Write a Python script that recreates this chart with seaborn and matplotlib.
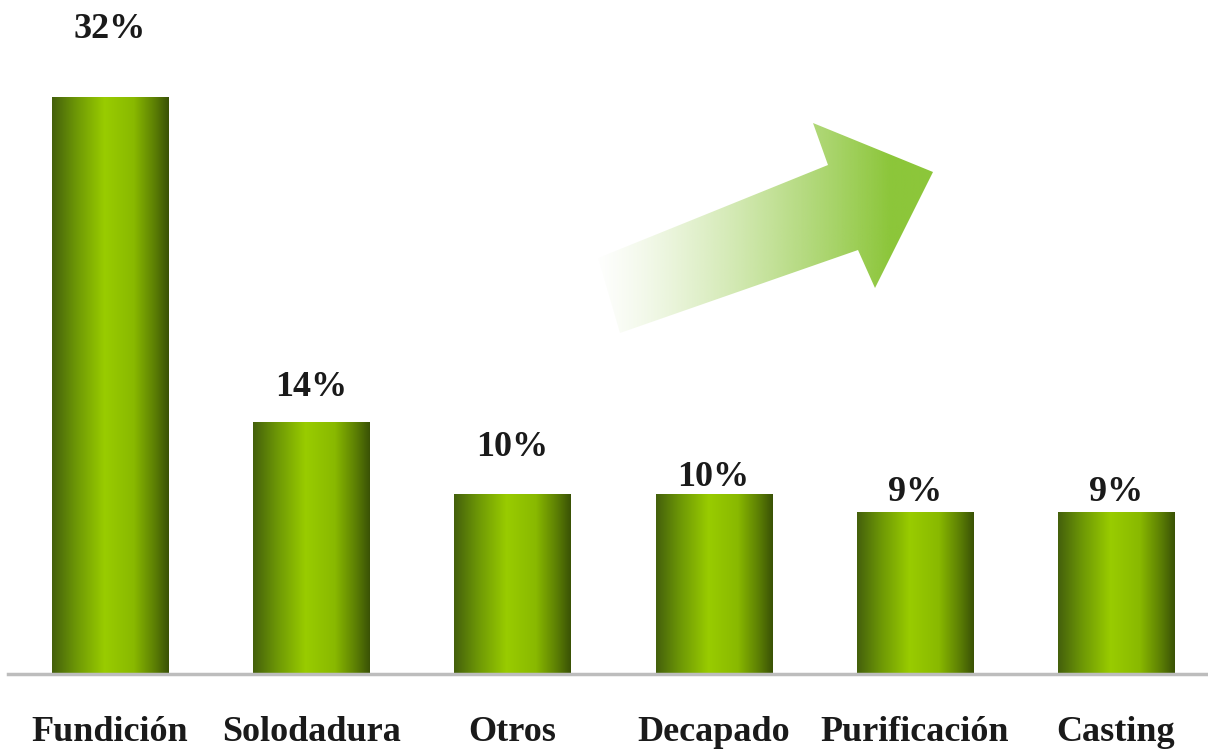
import numpy as np
import pandas as pd
import matplotlib
matplotlib.use("Agg")
import matplotlib.pyplot as plt
import seaborn as sns
from matplotlib.colors import LinearSegmentedColormap, to_rgb
from matplotlib.patches import Polygon

# data
categories = ['Fundición', 'Solodadura', 'Otros', 'Decapado', 'Purificación', 'Casting']
shares = [32, 14, 10, 10, 9, 9]
share_labels = ['32%', '14%', '10%', '10%', '9%', '9%']

# gap (pixels) between bar top and centre of its label, as in the original
label_gap = [68, 34, 46, 16, 19, 19]

sns.set_theme(style="white")
plt.rcParams['font.family'] = ['Liberation Serif', 'DejaVu Serif']

W, H = 1208, 749
fig = plt.figure(figsize=(W / 100, H / 100), dpi=100)
ax = fig.add_axes([8 / W, 75 / H, 1200 / W, 674 / H])

df = pd.DataFrame({'categoria': categories, 'porcentaje': shares})
sns.barplot(data=df, x='categoria', y='porcentaje', ax=ax, width=0.577,
            color='#88bb00', saturation=1, edgecolor='none')

# horizontal "cylinder" gradient on each bar
bar_cmap = LinearSegmentedColormap.from_list(
    'barra', [(0.0, '#44600c'), (0.2, '#6c9606'), (0.45, '#99cc00'),
              (0.7, '#89b900'), (0.88, '#5c7f04'), (1.0, '#3a5206')])
grad = np.linspace(0, 1, 256).reshape(1, -1)
for patch in ax.patches:
    x0, y0 = patch.get_x(), patch.get_y()
    w, h = patch.get_width(), patch.get_height()
    patch.set_facecolor('none')
    im = ax.imshow(grad, cmap=bar_cmap, aspect='auto',
                   extent=(x0, x0 + w, y0, y0 + h), zorder=2)
    im.set_clip_path(patch)

ax.set_xlim(-0.507, 5.457)
ax.set_ylim(0, 37.38)

for i, (v, lab) in enumerate(zip(shares, share_labels)):
    ax.annotate(lab, (i, v), xytext=(0, label_gap[i]), textcoords='offset pixels',
                ha='center', va='center', fontsize=26, fontweight='bold',
                color='#1a1a1a')

for s in ['top', 'left', 'right']:
    ax.spines[s].set_visible(False)
ax.spines['bottom'].set_color('#bdbdbd')
ax.spines['bottom'].set_linewidth(2.5)
ax.set_yticks([])
ax.set_xlabel('')
ax.set_ylabel('')
ax.tick_params(axis='x', length=0, pad=30)
for t in ax.get_xticklabels():
    t.set_fontsize(26)
    t.set_fontweight('bold')
    t.set_color('#1a1a1a')

# decorative rising arrow, in figure pixel space
deco = fig.add_axes([0, 0, 1, 1], zorder=3)
deco.set_xlim(0, W)
deco.set_ylim(H, 0)
deco.axis('off')
arrow_pts = [(598, 258), (828, 165), (813, 123), (933, 172),
             (875, 288), (858, 250), (620, 333)]
shape = Polygon(arrow_pts, closed=True, facecolor='none', edgecolor='none')
deco.add_patch(shape)
xs = np.linspace(580, 940, 400)
alpha = np.clip((xs - 590) / 300, 0, 1) ** 1.3
rgba = np.zeros((1, xs.size, 4))
rgba[0, :, :3] = to_rgb('#8cc63a')
rgba[0, :, 3] = alpha
arr_im = deco.imshow(rgba, aspect='auto', extent=(580, 940, 340, 115))
arr_im.set_clip_path(shape)
deco.set_xlim(0, W)
deco.set_ylim(H, 0)

fig.savefig('out.png', dpi=100, facecolor='white')
